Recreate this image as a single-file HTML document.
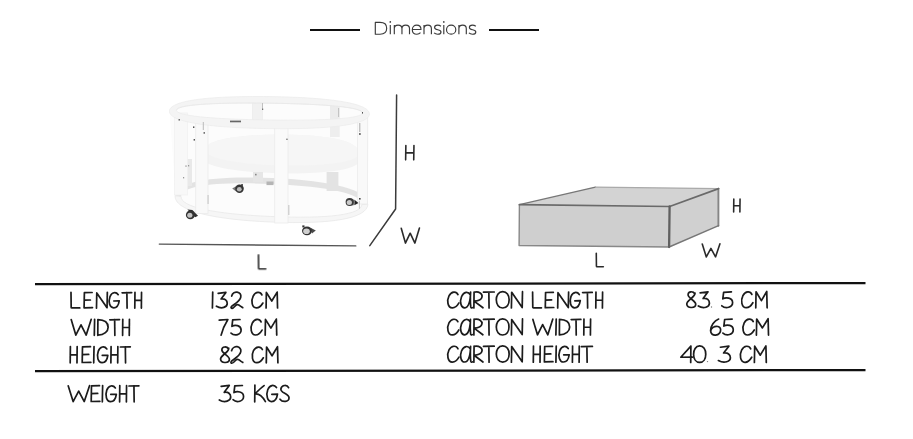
<!DOCTYPE html>
<html><head><meta charset="utf-8"><title>Dimensions</title>
<style>
html,body{margin:0;padding:0;background:#fff;}
body{width:913px;height:439px;position:relative;overflow:hidden;font-family:"Liberation Sans",sans-serif;}
#title{left:374px;top:16px;font-size:19px;line-height:24px;}
.tl{position:absolute;top:29px;height:2px;background:#111;}
svg{position:absolute;left:0;top:0;}
.t path{vector-effect:non-scaling-stroke;}
.ghost{position:absolute;color:transparent;font-size:17px;white-space:pre;line-height:18px;}
</style></head><body>
<div id="title" class="ghost">Dimensions</div>
<div class="tl" style="left:310px;width:50px"></div>
<div class="tl" style="left:489px;width:50px"></div>
<svg width="913" height="439" viewBox="0 0 913 439">
<defs>
<filter id="bl" x="-5%" y="-5%" width="110%" height="110%"><feGaussianBlur stdDeviation="0.6"/></filter>
<filter id="tb" x="-2%" y="-2%" width="104%" height="104%"><feGaussianBlur stdDeviation="0.35"/></filter>
<filter id="bl2" x="-20%" y="-20%" width="140%" height="140%"><feGaussianBlur stdDeviation="0.45"/></filter>
<clipPath id="topin"><ellipse cx="269" cy="112" rx="92" ry="8.5" transform="rotate(1 269 112)"/></clipPath>
</defs>
<g filter="url(#bl)">
<!-- silhouette -->
<path d="M169.5,110 C170,101 225,96 272,96.5 C322,97.5 369,103 369.5,114 L367.6,204 C362,214 320,222.5 282,222 C240,221 196,211 182,202 C177,198.5 175.5,196 175.5,194 Z" fill="#fcfcfc"/>
<!-- bottom rim back band -->
<g transform="rotate(2.5 271.5 200)">
<path d="M175.0,200 C175.0,185.92 209.74,178 271.5,178 C333.26,178 368.0,185.92 368.0,200 L362.0,200.5 C362.0,189.94 329.42,184.0 271.5,184.0 C213.57999999999998,184.0 181.0,189.94 181.0,200.5 Z" fill="#e3e3e3"/>
<path d="M175.0,200 C175.0,214.08 209.74,222 271.5,222 C333.26,222 368.0,214.08 368.0,200 L362.0,200.5 C362.0,210.74 329.42,216.5 271.5,216.5 C213.57999999999998,216.5 181.0,210.74 181.0,200.5 Z" fill="#f6f6f6" stroke="#e9e9e9" stroke-width="0.8"/>
</g>
<!-- mattress -->
<path d="M205,150 C205,138 250,134 285,134.5 C325,135 359,140 359,153 L359,161 C359,170 320,174 285,173.5 C250,173 205,168 205,160 Z" fill="#f3f3f3"/>
<path d="M205,150 C205,138 250,134 285,134.5 C325,135 359,140 359,153 C359,163 320,166 285,165.5 C250,165 205,160 205,150 Z" fill="#f6f6f6"/>
<!-- back lower posts -->
<rect x="326.6" y="172" width="11.8" height="19" fill="#e3e3e3"/>
<rect x="253" y="172" width="10" height="10" fill="#e6e6e6"/>
<rect x="182" y="159" width="10" height="27" fill="#e9e9e9"/>
<!-- back upper posts -->
<rect x="252.6" y="100" width="9.7" height="22" fill="#f1f1f1" stroke="#e8e8e8" stroke-width="0.6"/>
<rect x="330" y="103" width="9.7" height="20" fill="#ececec"/>
<rect x="330" y="123" width="9.7" height="14" fill="#eeeeee"/>
<!-- front posts -->
<rect x="195.7" y="118" width="12.3" height="95.5" fill="#f9f9f9" stroke="#ececec" stroke-width="0.8"/>
<rect x="274.7" y="126.5" width="13.3" height="96.5" fill="#fafafa" stroke="#ebebeb" stroke-width="0.8"/>
<rect x="357.5" y="117" width="10" height="87" fill="#f9f9f9" stroke="#ececec" stroke-width="0.8"/>
<rect x="174.5" y="113" width="13" height="82" fill="#f8f8f8" stroke="#efefef" stroke-width="0.7"/>
<!-- top rim -->
<g transform="rotate(0.8 269.4 112)">
<path fill-rule="evenodd" d="M169.39999999999998,112.6 C169.39999999999998,102.36 205.39999999999998,96.6 269.4,96.6 C333.4,96.6 369.4,102.36 369.4,112.6 C369.4,122.83999999999999 333.4,128.6 269.4,128.6 C205.39999999999998,128.6 169.39999999999998,122.83999999999999 169.39999999999998,112.6 Z M176.39999999999998,111.6 C176.39999999999998,116.976 209.87999999999997,120.0 269.4,120.0 C328.91999999999996,120.0 362.4,116.976 362.4,111.6 C362.4,106.22399999999999 328.91999999999996,103.19999999999999 269.4,103.19999999999999 C209.87999999999997,103.19999999999999 176.39999999999998,106.22399999999999 176.39999999999998,111.6 Z" fill="#f4f4f4" stroke="#ebebeb" stroke-width="0.7"/>
<path d="M176.39999999999998,111.6 C176.39999999999998,106.22399999999999 209.87999999999997,103.19999999999999 269.4,103.19999999999999 C328.91999999999996,103.19999999999999 362.4,106.22399999999999 362.4,111.6" fill="none" stroke="#e8e8e8" stroke-width="0.8"/>
</g>
</g>
<g filter="url(#bl2)">
<!-- wheels -->
<g>
<path d="M187.4,209.4 L192.3,210 L198,215.8 L195.2,217.2 Z" fill="#2e2e2e"/>
<ellipse cx="190.4" cy="214.9" rx="4.5" ry="4.3" fill="#333"/><ellipse cx="189.8" cy="215.2" rx="2.6" ry="2.5" fill="#c2c2c2"/>
<path d="M232.2,188.6 L236.2,186.3 L236.2,191.6 Z" fill="#777"/><rect x="241.3" y="184" width="1.5" height="2.4" fill="#333"/>
<ellipse cx="239.5" cy="188.8" rx="4.3" ry="4.2" fill="#363636"/><ellipse cx="239.3" cy="189.2" rx="2.4" ry="2.3" fill="#b8b8b8"/>
<path d="M310.6,227.8 L315.8,230.5 L312,233.6 Z" fill="#4a4a4a"/><rect x="302.3" y="225.4" width="2.2" height="2" fill="#333"/>
<ellipse cx="307" cy="230.8" rx="5" ry="4.4" fill="#333"/><ellipse cx="306.5" cy="231.2" rx="3.3" ry="2.8" fill="#cfcfcf"/>
<path d="M352,199 L355,200 L355,205 L352,205.5 Z" fill="#888"/>
<path d="M354.8,199.9 L358.4,203.1 L354.8,205 Z" fill="#222"/>
<ellipse cx="349.7" cy="202.1" rx="4.1" ry="4" fill="#3a3a3a"/><ellipse cx="349.3" cy="202.4" rx="2.6" ry="2.5" fill="#cacaca"/>
<rect x="358.9" y="200.8" width="0.9" height="8" fill="#c0c0c0"/>
</g>
<!-- dots -->
<g fill="#555">
<rect x="178.6" y="119" width="1.2" height="1.6"/>
<rect x="193" y="126.4" width="1.4" height="1.6"/>
<rect x="193.6" y="139" width="1.4" height="1.6"/>
<rect x="203.6" y="132" width="1.2" height="1.8"/>
<rect x="202.8" y="122" width="1" height="8" fill="#bbb"/>
<rect x="362" y="112" width="1" height="1.6"/>
<rect x="359.2" y="133" width="1.4" height="2"/>
<rect x="359.3" y="123" width="1" height="9" fill="#aaa"/>
<rect x="338.2" y="108" width="0.9" height="9" fill="#bbb"/>
<rect x="262" y="103" width="0.9" height="6" fill="#bbb"/>
<rect x="262.2" y="108.6" width="1" height="1.4"/>
<rect x="286.4" y="138.6" width="1.1" height="1.4"/>
<rect x="207.6" y="195" width="0.9" height="9" fill="#bbb"/>
<rect x="288.4" y="205" width="0.9" height="10" fill="#bbb"/>
<rect x="230" y="120.6" width="11" height="1.7" fill="#666"/>
<rect x="255" y="173.8" width="1.6" height="1.6" fill="#888"/>
<rect x="185.4" y="165.4" width="1.2" height="1.4" fill="#999"/>
<rect x="188" y="165" width="1.2" height="1.4" fill="#999"/>
<rect x="183" y="177" width="1.2" height="1.4" fill="#999"/>
<rect x="266.5" y="181.5" width="7" height="3.6" fill="#b5b5b5"/>
<rect x="359" y="198" width="1.6" height="1.6" fill="#444"/>
</g>
</g>

<g fill="none" stroke="#3a3a3a" stroke-width="1.15" stroke-linejoin="round" filter="url(#tb)">
<path d="M375.3,22.4 L375.3,34.2 L380,34.2 C384.5,34.2 386.7,31.6 386.7,28.3 C386.7,25 384.5,22.4 380,22.4 Z"/>
<path d="M390.3,25.1 L390.3,34.2"/><circle cx="390.3" cy="21.9" r="0.85" fill="#3a3a3a" stroke="none"/>
<path d="M394.3,25.1 L394.3,34.2 M394.3,28.6 C394.3,26.3 395.9,25.1 398.1,25.1 C400.4,25.1 401.95,26.4 401.95,28.6 L401.95,34.2 M401.95,28.6 C401.95,26.3 403.6,25.1 405.7,25.1 C408,25.1 409.5,26.4 409.5,28.6 L409.5,34.2"/>
<path d="M412.4,29.5 L421,29.5 C421,26.8 419.2,25.1 416.7,25.1 C414.2,25.1 412.3,27 412.3,29.65 C412.3,32.3 414.2,34.2 416.9,34.2 C418.4,34.2 419.6,33.7 420.5,32.7"/>
<path d="M424.0,25.1 L424.0,34.2 M424.0,28.7 C424.0,26.5 425.6,25.1 427.8,25.1 C430.0,25.1 431.4,26.4 431.4,28.7 L431.4,34.2"/>
<path transform="translate(0 0)" d="M441,26.3 C440,25.5 438.8,25.1 437.6,25.1 C435.6,25.1 434.6,26.1 434.6,27.4 C434.6,28.8 435.8,29.3 437.8,29.7 C439.9,30.1 441,30.6 441,31.9 C441,33.3 439.8,34.2 437.6,34.2 C436.2,34.2 434.9,33.7 434.1,32.9"/>
<path d="M443.8,25.1 L443.8,34.2"/><circle cx="443.8" cy="21.9" r="0.85" fill="#3a3a3a" stroke="none"/>
<ellipse cx="451.15" cy="29.65" rx="4.65" ry="4.55"/>
<path d="M458.9,25.1 L458.9,34.2 M458.9,28.7 C458.9,26.5 460.5,25.1 462.7,25.1 C464.9,25.1 466.29999999999995,26.4 466.29999999999995,28.7 L466.29999999999995,34.2"/>
<path transform="translate(34.8 0)" d="M441,26.3 C440,25.5 438.8,25.1 437.6,25.1 C435.6,25.1 434.6,26.1 434.6,27.4 C434.6,28.8 435.8,29.3 437.8,29.7 C439.9,30.1 441,30.6 441,31.9 C441,33.3 439.8,34.2 437.6,34.2 C436.2,34.2 434.9,33.7 434.1,32.9"/>
</g>
<g fill="none" stroke="#3a3a3a" stroke-width="1.5" stroke-linecap="round" stroke-linejoin="round" filter="url(#tb)">
<path d="M396.6,95 L395.6,209 L369.8,245.6"/>
<path d="M159.3,244.1 L355.8,245.9" stroke="#555" stroke-width="1.4"/>
</g>
<g filter="url(#tb)">
<path d="M519.4,204.7 L595.4,187.1 L718.6,188.6 L669.6,206.5 Z" fill="#d3d3d3"/>
<path d="M669.6,206.5 L718.6,188.6 L718.6,225.7 L669.1,247 Z" fill="#d0d0d0"/>
<path d="M519.4,204.7 L669.6,206.5 L669.1,247 L519.1,245.5 Z" fill="#cfcfcf"/>
<g fill="none" stroke-linecap="round" stroke-linejoin="round">
<path d="M519.4,204.7 L595.4,187.1" stroke="#777" stroke-width="1.3"/>
<path d="M595.4,187.1 L718.6,188.6" stroke="#aaa" stroke-width="1.2"/>
<path d="M718.4,188.6 L718.4,225.7" stroke="#858585" stroke-width="1.9"/>
<path d="M718.6,225.7 L669.1,247" stroke="#777" stroke-width="1.4"/>
<path d="M669.1,247 L519.1,245.5 L519.4,204.7" stroke="#888" stroke-width="1.4"/>
<path d="M519.4,204.7 L669.6,206.5 L718.6,188.6" stroke="#6a6a6a" stroke-width="1.7"/>
<path d="M669.6,206.5 L669.1,247" stroke="#606060" stroke-width="2.3"/>
</g>
</g>
<g stroke="#111" stroke-width="2.3" fill="none">
<path d="M35,284.1 L865.5,283.1"/>
<path d="M35,371.1 L865.5,370.1"/>
</g>
<g class="t" fill="none" stroke="#2c2c2c" stroke-width="1.6" stroke-linecap="round" stroke-linejoin="round" filter="url(#tb)">
<path transform="translate(405.65 145.45) scale(1.0375 0.9000)" d="M0.2,0 L0,16 M8,0 L7.8,16 M0.1,8.2 L7.9,8"/>
<path transform="translate(401.25 227.95) scale(0.9100 0.9563)" d="M0,0.3 L4.6,15.8 L9.8,5.5 L15,15.8 L20,0"/>
<path transform="translate(258.25 255.05) scale(0.7895 0.8812)" d="M0.3,0 L0.5,15.3 Q0.5,15.8 1.2,15.8 L9.5,15.8"/>
<path transform="translate(733.65 199.15) scale(0.8000 0.8062)" d="M0.2,0 L0,16 M8,0 L7.8,16 M0.1,8.2 L7.9,8"/>
<path transform="translate(702.25 243.85) scale(0.8850 0.8250)" d="M0,0.3 L4.6,15.8 L9.8,5.5 L15,15.8 L20,0"/>
<path transform="translate(596.05 253.25) scale(0.7684 0.8562)" d="M0.3,0 L0.5,15.3 Q0.5,15.8 1.2,15.8 L9.5,15.8"/>
</g>
<g class="t" fill="none" stroke="#1a1a1a" stroke-width="1.7" filter="url(#tb)" stroke-linecap="round" stroke-linejoin="round">
<path transform="translate(70.70 292.30) scale(0.9556 0.9875)" d="M0.3,0 L0.5,15.3 Q0.5,15.8 1.2,15.8 L9.5,15.8"/>
<path transform="translate(83.90 292.30) scale(0.9521 0.9875)" d="M0.5,0.4 L0.2,15.7 L9,15.5 M0.5,0.4 L8.6,0.2 M0.3,8 L6.8,7.8"/>
<path transform="translate(96.20 292.30) scale(0.9679 0.9875)" d="M0.3,16 L0.6,0.6 L11.2,15.6 L11.5,0"/>
<path transform="translate(108.80 292.30) scale(0.9632 0.9875)" d="M9.8,2.4 C7.5,-0.8 3,-0.3 1.2,4.5 C-0.8,10 1,15.8 5,15.8 C8.5,15.8 10.3,12 10.8,8.6 L5.2,8.8"/>
<path transform="translate(122.10 292.30) scale(0.9587 0.9875)" d="M0,0.5 L10,0.3 M5,0.4 L5.2,16"/>
<path transform="translate(134.80 292.30) scale(0.8419 0.9875)" d="M0.2,0 L0,16 M8,0 L7.8,16 M0.1,8.2 L7.9,8"/>
<path transform="translate(211.90 292.10) scale(1.0250 0.9937)" d="M0.8,0 L0.5,16"/>
<path transform="translate(216.40 292.10) scale(0.9032 0.9937)" d="M2,1.3 L10.5,0.3 L5.2,6.9 C9.5,6.2 12,8.5 12,11.5 C12,15 6,17.5 0,14.2"/>
<path transform="translate(230.50 292.10) scale(0.9778 0.9937)" d="M1.2,4 C2,0.8 5,-0.2 6.8,0 C9.5,0.3 11,2.5 10.5,5 C10,8 6,11 3,13 C1,14.3 0,15.5 0.8,16.2 C1.8,17 3.5,15.5 4.8,14 C5.8,12.8 7,12.3 8,12.8 C9.5,13.5 11,15 12.5,15.6"/>
<path transform="translate(251.70 292.10) scale(0.9728 0.9937)" d="M10.5,2.8 C9,-0.5 4,-0.8 1.5,4 C-0.8,8.5 0,15.8 4.8,15.9 C8,16 10,13.5 11.5,11"/>
<path transform="translate(265.80 292.10) scale(0.9320 0.9937)" d="M0.3,16 L0.6,0.3 L6.4,9 L12.2,0 L12.6,16"/>
<path transform="translate(71.20 319.30) scale(1.0012 1.0000)" d="M0,0.3 L4.6,15.8 L9.8,5.5 L15,15.8 L20,0"/>
<path transform="translate(94.00 319.30) scale(1.0312 1.0000)" d="M0.6,0 L0.3,16"/>
<path transform="translate(97.60 319.30) scale(0.9757 1.0000)" d="M0.3,0.2 L0.2,16 M0.3,0.3 C8,0.5 10.8,4 10.8,8 C10.8,12 7,15.5 0.2,15.9"/>
<path transform="translate(109.80 319.30) scale(0.9713 1.0000)" d="M0,0.5 L10,0.3 M5,0.4 L5.2,16"/>
<path transform="translate(122.60 319.30) scale(0.8531 1.0000)" d="M0.2,0 L0,16 M8,0 L7.8,16 M0.1,8.2 L7.9,8"/>
<path transform="translate(219.20 319.10) scale(0.9646 1.0000)" d="M0,1 L9,0.4 C6,5 3.5,10 2,16"/>
<path transform="translate(231.00 319.10) scale(0.9448 1.0000)" d="M9.5,0.4 L1.8,0.8 L1,7.2 C4,5.5 10.5,6 10.7,10.8 C10.8,15.5 4,17.5 0,14"/>
<path transform="translate(250.80 319.10) scale(0.9791 1.0000)" d="M10.5,2.8 C9,-0.5 4,-0.8 1.5,4 C-0.8,8.5 0,15.8 4.8,15.9 C8,16 10,13.5 11.5,11"/>
<path transform="translate(264.90 319.10) scale(0.9380 1.0000)" d="M0.3,16 L0.6,0.3 L6.4,9 L12.2,0 L12.6,16"/>
<path transform="translate(70.20 346.50) scale(0.8700 1.0188)" d="M0.2,0 L0,16 M8,0 L7.8,16 M0.1,8.2 L7.9,8"/>
<path transform="translate(82.00 346.50) scale(0.9833 1.0188)" d="M0.5,0.4 L0.2,15.7 L9,15.5 M0.5,0.4 L8.6,0.2 M0.3,8 L6.8,7.8"/>
<path transform="translate(93.40 346.50) scale(1.0500 1.0188)" d="M0.6,0 L0.3,16"/>
<path transform="translate(97.10 346.50) scale(0.9944 1.0188)" d="M9.8,2.4 C7.5,-0.8 3,-0.3 1.2,4.5 C-0.8,10 1,15.8 5,15.8 C8.5,15.8 10.3,12 10.8,8.6 L5.2,8.8"/>
<path transform="translate(110.90 346.50) scale(0.8700 1.0188)" d="M0.2,0 L0,16 M8,0 L7.8,16 M0.1,8.2 L7.9,8"/>
<path transform="translate(120.40 346.50) scale(0.9900 1.0188)" d="M0,0.5 L10,0.3 M5,0.4 L5.2,16"/>
<path transform="translate(220.10 346.70) scale(0.9804 1.0063)" d="M8.5,2.2 C7,-0.5 2,-0.5 1.8,3 C1.5,6.5 9.5,9 9.5,12.5 C9.5,16.5 1,17 0.5,12.5 C0,8.5 9,6 8.8,1.5"/>
<path transform="translate(230.40 346.70) scale(0.9903 1.0063)" d="M1.2,4 C2,0.8 5,-0.2 6.8,0 C9.5,0.3 11,2.5 10.5,5 C10,8 6,11 3,13 C1,14.3 0,15.5 0.8,16.2 C1.8,17 3.5,15.5 4.8,14 C5.8,12.8 7,12.3 8,12.8 C9.5,13.5 11,15 12.5,15.6"/>
<path transform="translate(252.00 346.70) scale(0.9853 1.0063)" d="M10.5,2.8 C9,-0.5 4,-0.8 1.5,4 C-0.8,8.5 0,15.8 4.8,15.9 C8,16 10,13.5 11.5,11"/>
<path transform="translate(266.00 346.70) scale(0.9439 1.0063)" d="M0.3,16 L0.6,0.3 L6.4,9 L12.2,0 L12.6,16"/>
<path transform="translate(68.20 385.50) scale(1.0700 1.0188)" d="M0,0.3 L4.6,15.8 L9.8,5.5 L15,15.8 L20,0"/>
<path transform="translate(91.00 385.50) scale(0.9833 1.0188)" d="M0.5,0.4 L0.2,15.7 L9,15.5 M0.5,0.4 L8.6,0.2 M0.3,8 L6.8,7.8"/>
<path transform="translate(102.00 385.50) scale(1.0500 1.0188)" d="M0.6,0 L0.3,16"/>
<path transform="translate(105.60 385.50) scale(0.9944 1.0188)" d="M9.8,2.4 C7.5,-0.8 3,-0.3 1.2,4.5 C-0.8,10 1,15.8 5,15.8 C8.5,15.8 10.3,12 10.8,8.6 L5.2,8.8"/>
<path transform="translate(119.60 385.50) scale(0.8700 1.0188)" d="M0.2,0 L0,16 M8,0 L7.8,16 M0.1,8.2 L7.9,8"/>
<path transform="translate(129.00 385.50) scale(0.9900 1.0188)" d="M0,0.5 L10,0.3 M5,0.4 L5.2,16"/>
<path transform="translate(219.30 385.10) scale(0.9497 1.0437)" d="M2,1.3 L10.5,0.3 L5.2,6.9 C9.5,6.2 12,8.5 12,11.5 C12,15 6,17.5 0,14.2"/>
<path transform="translate(233.00 385.10) scale(0.9872 1.0437)" d="M9.5,0.4 L1.8,0.8 L1,7.2 C4,5.5 10.5,6 10.7,10.8 C10.8,15.5 4,17.5 0,14"/>
<path transform="translate(254.40 385.10) scale(1.0194 1.0437)" d="M0.5,0 L0.3,16 M9.5,0.5 C6,3 3,6 0.5,8.5 C4,8 8,11 10.8,15.8"/>
<path transform="translate(266.50 385.10) scale(1.0194 1.0437)" d="M9.8,2.4 C7.5,-0.8 3,-0.3 1.2,4.5 C-0.8,10 1,15.8 5,15.8 C8.5,15.8 10.3,12 10.8,8.6 L5.2,8.8"/>
<path transform="translate(280.00 385.10) scale(0.9029 1.0437)" d="M9.5,2.5 C8,-0.5 2,-0.5 1,3.5 C0,7.5 9.5,8 10,12 C10.3,16 3,17 0,13.5"/>
<path transform="translate(447.50 291.70) scale(0.9978 1.0188)" d="M10.5,2.8 C9,-0.5 4,-0.8 1.5,4 C-0.8,8.5 0,15.8 4.8,15.9 C8,16 10,13.5 11.5,11"/>
<path transform="translate(460.30 291.70) scale(1.0000 1.0188)" d="M10,3 C8,-0.5 3.5,-0.5 1.2,5 C-1,10.5 1,16 4.5,15.8 C8,15.5 10,9 10.3,0.5 C10,6 10,12 10.5,15 C10.8,16.2 11.5,16 12,15.6"/>
<path transform="translate(473.60 291.70) scale(0.9375 1.0188)" d="M0.5,0.3 L0.3,16 M0.5,0.5 C6,-0.5 9.5,2 9,5 C8.5,8 4,9 0.5,9.2 L10,15.8"/>
<path transform="translate(483.50 291.70) scale(1.0700 1.0188)" d="M0,0.5 L10,0.3 M5,0.4 L5.2,16"/>
<path transform="translate(496.30 291.70) scale(1.0031 1.0188)" d="M6.4,0 C2,0 0,4 0,8 C0,12.5 2.5,16 6.4,16 C10.5,16 12.8,12.5 12.8,8 C12.8,3.5 10.5,0 6.4,0 Z"/>
<path transform="translate(511.10 291.70) scale(0.9915 1.0188)" d="M0.3,16 L0.6,0.6 L11.2,15.6 L11.5,0"/>
<path transform="translate(532.30 292.10) scale(0.9618 0.9937)" d="M0.3,0 L0.5,15.3 Q0.5,15.8 1.2,15.8 L9.5,15.8"/>
<path transform="translate(545.10 292.10) scale(0.9583 0.9937)" d="M0.5,0.4 L0.2,15.7 L9,15.5 M0.5,0.4 L8.6,0.2 M0.3,8 L6.8,7.8"/>
<path transform="translate(557.40 292.10) scale(0.9742 0.9937)" d="M0.3,16 L0.6,0.6 L11.2,15.6 L11.5,0"/>
<path transform="translate(569.80 292.10) scale(0.9694 0.9937)" d="M9.8,2.4 C7.5,-0.8 3,-0.3 1.2,4.5 C-0.8,10 1,15.8 5,15.8 C8.5,15.8 10.3,12 10.8,8.6 L5.2,8.8"/>
<path transform="translate(582.60 292.10) scale(0.9650 0.9937)" d="M0,0.5 L10,0.3 M5,0.4 L5.2,16"/>
<path transform="translate(595.80 292.10) scale(0.8475 0.9937)" d="M0.2,0 L0,16 M8,0 L7.8,16 M0.1,8.2 L7.9,8"/>
<path transform="translate(447.50 318.90) scale(0.9853 1.0063)" d="M10.5,2.8 C9,-0.5 4,-0.8 1.5,4 C-0.8,8.5 0,15.8 4.8,15.9 C8,16 10,13.5 11.5,11"/>
<path transform="translate(460.30 318.90) scale(0.9875 1.0063)" d="M10,3 C8,-0.5 3.5,-0.5 1.2,5 C-1,10.5 1,16 4.5,15.8 C8,15.5 10,9 10.3,0.5 C10,6 10,12 10.5,15 C10.8,16.2 11.5,16 12,15.6"/>
<path transform="translate(473.60 318.90) scale(0.9256 1.0063)" d="M0.5,0.3 L0.3,16 M0.5,0.5 C6,-0.5 9.5,2 9,5 C8.5,8 4,9 0.5,9.2 L10,15.8"/>
<path transform="translate(483.50 318.90) scale(1.0700 1.0063)" d="M0,0.5 L10,0.3 M5,0.4 L5.2,16"/>
<path transform="translate(496.30 318.90) scale(0.9906 1.0063)" d="M6.4,0 C2,0 0,4 0,8 C0,12.5 2.5,16 6.4,16 C10.5,16 12.8,12.5 12.8,8 C12.8,3.5 10.5,0 6.4,0 Z"/>
<path transform="translate(511.10 318.90) scale(0.9915 1.0063)" d="M0.3,16 L0.6,0.6 L11.2,15.6 L11.5,0"/>
<path transform="translate(532.90 319.10) scale(0.9950 0.9937)" d="M0,0.3 L4.6,15.8 L9.8,5.5 L15,15.8 L20,0"/>
<path transform="translate(555.60 319.10) scale(1.0250 0.9937)" d="M0.6,0 L0.3,16"/>
<path transform="translate(559.20 319.10) scale(0.9694 0.9937)" d="M0.3,0.2 L0.2,16 M0.3,0.3 C8,0.5 10.8,4 10.8,8 C10.8,12 7,15.5 0.2,15.9"/>
<path transform="translate(571.20 319.10) scale(0.9650 0.9937)" d="M0,0.5 L10,0.3 M5,0.4 L5.2,16"/>
<path transform="translate(583.80 319.10) scale(0.8475 0.9937)" d="M0.2,0 L0,16 M8,0 L7.8,16 M0.1,8.2 L7.9,8"/>
<path transform="translate(447.50 345.90) scale(0.9978 1.0188)" d="M10.5,2.8 C9,-0.5 4,-0.8 1.5,4 C-0.8,8.5 0,15.8 4.8,15.9 C8,16 10,13.5 11.5,11"/>
<path transform="translate(460.30 345.90) scale(1.0000 1.0188)" d="M10,3 C8,-0.5 3.5,-0.5 1.2,5 C-1,10.5 1,16 4.5,15.8 C8,15.5 10,9 10.3,0.5 C10,6 10,12 10.5,15 C10.8,16.2 11.5,16 12,15.6"/>
<path transform="translate(473.60 345.90) scale(0.9375 1.0188)" d="M0.5,0.3 L0.3,16 M0.5,0.5 C6,-0.5 9.5,2 9,5 C8.5,8 4,9 0.5,9.2 L10,15.8"/>
<path transform="translate(483.50 345.90) scale(1.0700 1.0188)" d="M0,0.5 L10,0.3 M5,0.4 L5.2,16"/>
<path transform="translate(496.30 345.90) scale(1.0031 1.0188)" d="M6.4,0 C2,0 0,4 0,8 C0,12.5 2.5,16 6.4,16 C10.5,16 12.8,12.5 12.8,8 C12.8,3.5 10.5,0 6.4,0 Z"/>
<path transform="translate(511.10 345.90) scale(0.9915 1.0188)" d="M0.3,16 L0.6,0.6 L11.2,15.6 L11.5,0"/>
<path transform="translate(533.30 346.10) scale(0.8588 1.0063)" d="M0.2,0 L0,16 M8,0 L7.8,16 M0.1,8.2 L7.9,8"/>
<path transform="translate(544.20 346.10) scale(0.9708 1.0063)" d="M0.5,0.4 L0.2,15.7 L9,15.5 M0.5,0.4 L8.6,0.2 M0.3,8 L6.8,7.8"/>
<path transform="translate(555.60 346.10) scale(1.0375 1.0063)" d="M0.6,0 L0.3,16"/>
<path transform="translate(558.60 346.10) scale(0.9819 1.0063)" d="M9.8,2.4 C7.5,-0.8 3,-0.3 1.2,4.5 C-0.8,10 1,15.8 5,15.8 C8.5,15.8 10.3,12 10.8,8.6 L5.2,8.8"/>
<path transform="translate(572.40 346.10) scale(0.8588 1.0063)" d="M0.2,0 L0,16 M8,0 L7.8,16 M0.1,8.2 L7.9,8"/>
<path transform="translate(581.40 346.10) scale(1.1000 1.0063)" d="M0,0.5 L10,0.3 M5,0.4 L5.2,16"/>
<path transform="translate(686.30 291.50) scale(0.9929 1.0188)" d="M8.5,2.2 C7,-0.5 2,-0.5 1.8,3 C1.5,6.5 9.5,9 9.5,12.5 C9.5,16.5 1,17 0.5,12.5 C0,8.5 9,6 8.8,1.5"/>
<path transform="translate(698.30 291.50) scale(0.9265 1.0188)" d="M2,1.3 L10.5,0.3 L5.2,6.9 C9.5,6.2 12,8.5 12,11.5 C12,15 6,17.5 0,14.2"/>
<circle cx="711.50" cy="307.00" r="0.7" fill="#777" stroke="none"/>
<path transform="translate(721.80 291.50) scale(1.0093 1.0188)" d="M9.5,0.4 L1.8,0.8 L1,7.2 C4,5.5 10.5,6 10.7,10.8 C10.8,15.5 4,17.5 0,14"/>
<path transform="translate(741.40 291.50) scale(0.9978 1.0188)" d="M10.5,2.8 C9,-0.5 4,-0.8 1.5,4 C-0.8,8.5 0,15.8 4.8,15.9 C8,16 10,13.5 11.5,11"/>
<path transform="translate(755.50 291.50) scale(0.9219 1.0188)" d="M0.3,16 L0.6,0.3 L6.4,9 L12.2,0 L12.6,16"/>
<path transform="translate(710.10 318.70) scale(1.0017 1.0250)" d="M8.5,0.3 C4,2 0.5,7 0.5,11.5 C0.5,15 3,16.2 5.5,16 C8.5,15.8 10.8,13.5 10.5,10.5 C10.2,7.5 6,6.5 3,8.5 C1.5,9.5 0.8,11 0.5,12"/>
<path transform="translate(722.90 318.70) scale(0.9690 1.0250)" d="M9.5,0.4 L1.8,0.8 L1,7.2 C4,5.5 10.5,6 10.7,10.8 C10.8,15.5 4,17.5 0,14"/>
<path transform="translate(742.70 318.70) scale(1.0041 1.0250)" d="M10.5,2.8 C9,-0.5 4,-0.8 1.5,4 C-0.8,8.5 0,15.8 4.8,15.9 C8,16 10,13.5 11.5,11"/>
<path transform="translate(756.10 318.70) scale(0.9844 1.0250)" d="M0.3,16 L0.6,0.3 L6.4,9 L12.2,0 L12.6,16"/>
<path transform="translate(680.80 345.90) scale(1.0103 1.0312)" d="M10,0.2 L0,11 L11.5,10.8 M10,0.2 L9.8,16"/>
<path transform="translate(693.60 345.90) scale(1.0125 1.0312)" d="M6,0 C2,0 0,4 0,8 C0,12.5 2.3,16 6,16 C9.8,16 12,12.5 12,8 C12,3.5 9.8,0 6,0 Z"/>
<circle cx="707.50" cy="361.60" r="0.7" fill="#777" stroke="none"/>
<path transform="translate(718.40 345.90) scale(1.0000 1.0312)" d="M2,1.3 L10.5,0.3 L5.2,6.9 C9.5,6.2 12,8.5 12,11.5 C12,15 6,17.5 0,14.2"/>
<path transform="translate(740.10 345.90) scale(1.0103 1.0312)" d="M10.5,2.8 C9,-0.5 4,-0.8 1.5,4 C-0.8,8.5 0,15.8 4.8,15.9 C8,16 10,13.5 11.5,11"/>
<path transform="translate(754.10 345.90) scale(0.9678 1.0312)" d="M0.3,16 L0.6,0.3 L6.4,9 L12.2,0 L12.6,16"/>
</g>
</svg>
<span class="ghost" style="left:70px;top:291px">LENGTH</span>
<span class="ghost" style="left:210px;top:291px">132 CM</span>
<span class="ghost" style="left:447px;top:291px">CARTON LENGTH</span>
<span class="ghost" style="left:686px;top:291px">83. 5 CM</span>
<span class="ghost" style="left:70px;top:318px">WIDTH</span>
<span class="ghost" style="left:219px;top:318px">75 CM</span>
<span class="ghost" style="left:447px;top:318px">CARTON WIDTH</span>
<span class="ghost" style="left:709px;top:318px">65 CM</span>
<span class="ghost" style="left:69px;top:345px">HEIGHT</span>
<span class="ghost" style="left:219px;top:345px">82 CM</span>
<span class="ghost" style="left:447px;top:345px">CARTON HEIGHT</span>
<span class="ghost" style="left:680px;top:345px">40. 3 CM</span>
<span class="ghost" style="left:67px;top:384px">WEIGHT</span>
<span class="ghost" style="left:218px;top:384px">35 KGS</span>
<span class="ghost" style="left:405px;top:143px">H</span>
<span class="ghost" style="left:401px;top:226px">W</span>
<span class="ghost" style="left:257px;top:253px">L</span>
<span class="ghost" style="left:733px;top:196px">H</span>
<span class="ghost" style="left:702px;top:241px">W</span>
<span class="ghost" style="left:595px;top:251px">L</span>
</body></html>
